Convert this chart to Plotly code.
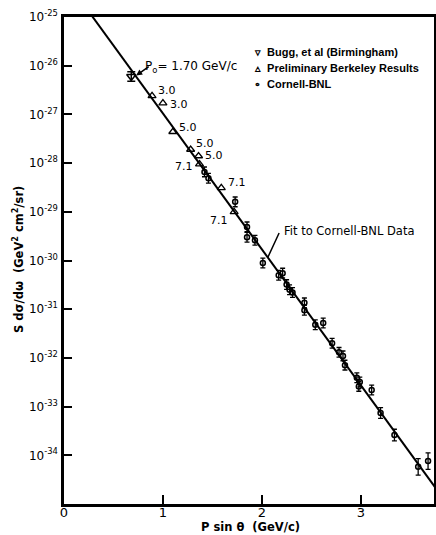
import numpy as np
import plotly.graph_objects as go

# ---- data ----
bugg_x = [0.68]
bugg_y = [6.0e-27]
bugg_err_dec = [0.10]

berk_x = [0.89, 1.00, 1.10, 1.28, 1.36, 1.37, 1.59, 1.72]
berk_y = [2.4e-27, 1.7e-27, 4.4e-28, 1.9e-28, 1.4e-28, 9.5e-29, 3.1e-29, 1.0e-29]
berk_labels = ["3.0", "3.0", "5.0", "5.0", "5.0", "7.1", "7.1", "7.1"]

cbnl_x = [1.42, 1.46, 1.73, 1.85, 1.85, 1.93, 2.01, 2.17, 2.21, 2.25, 2.28, 2.31,
          2.43, 2.43, 2.54, 2.62, 2.71, 2.78, 2.82, 2.84, 2.96, 2.99, 2.98, 3.11,
          3.20, 3.34, 3.58, 3.68]
cbnl_y = [6.6e-29, 4.9e-29, 1.6e-29, 4.9e-30, 3.0e-30, 2.6e-30, 8.9e-31, 5.0e-31,
          5.5e-31, 3.2e-31, 2.5e-31, 2.2e-31, 1.35e-31, 9.5e-32, 4.8e-32, 5.2e-32,
          2.0e-32, 1.3e-32, 1.1e-32, 7.1e-33, 3.9e-33, 3.2e-33, 2.6e-33, 2.2e-33,
          7.4e-34, 2.6e-34, 5.8e-35, 7.6e-35]
cbnl_err_dec = [0.10] * 24 + [0.11, 0.12, 0.17, 0.17]

# fit to Cornell-BNL data: log10(y) = fit_a + fit_b * x
fit_a = -24.19
fit_b = -2.79
fit_x = [0.0, 3.8]

y_tick_exps = [-25, -26, -27, -28, -29, -30, -31, -32, -33, -34]
x_tick_vals = [0, 1, 2, 3]
x_tick_text = ["0", "1", "2", "3"]

FONT = "DejaVu Sans"
LFONT = "Liberation Sans"


def errs(vals, decs):
    v = np.array(vals)
    d = np.array(decs)
    return v * (10 ** d - 1), v * (1 - 10 ** (-d))


fig = go.Figure()

fx = np.array(fit_x)
fig.add_trace(go.Scatter(x=fx, y=10 ** (fit_a + fit_b * fx), mode="lines",
                         line=dict(color="black", width=2), showlegend=False,
                         hoverinfo="skip"))

cp, cm = errs(cbnl_y, cbnl_err_dec)
fig.add_trace(go.Scatter(x=cbnl_x, y=cbnl_y, mode="markers", name="Cornell-BNL",
                         marker=dict(symbol="circle-open", size=5, color="black",
                                     line=dict(width=1.5)),
                         error_y=dict(type="data", array=cp, arrayminus=cm,
                                      color="black", thickness=1.3, width=2.5),
                         showlegend=False))

fig.add_trace(go.Scatter(x=berk_x, y=berk_y, mode="markers",
                         name="Preliminary Berkeley Results",
                         marker=dict(symbol="triangle-up-open", size=7, color="black",
                                     line=dict(width=1.3)),
                         showlegend=False))

bp, bm = errs(bugg_y, bugg_err_dec)
fig.add_trace(go.Scatter(x=bugg_x, y=bugg_y, mode="markers",
                         name="Bugg, et al (Birmingham)",
                         marker=dict(symbol="triangle-down-open", size=8, color="black",
                                     line=dict(width=1.5)),
                         error_y=dict(type="data", array=bp, arrayminus=bm,
                                      color="black", thickness=1.5, width=4),
                         showlegend=False))

annots = []
# Berkeley labels
label_offsets = [(4, -5, "left"), (5, 1, "left"), (4, -4, "left"), (3, -6, "left"),
                 (4, 0, "left"), (-5, 2, "right"), (5, -5, "left"), (-4, 9, "right")]
for x, y, t, (dx, dy, anc) in zip(berk_x, berk_y, berk_labels, label_offsets):
    annots.append(dict(x=x, y=np.log10(y), xref="x", yref="y", text=t, showarrow=False,
                       xanchor=anc, yanchor="middle", xshift=dx, yshift=-dy,
                       font=dict(family=FONT, size=11, color="black")))

# P0 label with leader
annots.append(dict(x=bugg_x[0] + 0.05, y=np.log10(bugg_y[0]) + 0.02, xref="x", yref="y",
                   ax=14, ay=-10, text="", showarrow=True, arrowhead=2, arrowsize=0.8,
                   arrowwidth=1.5, arrowcolor="black"))
annots.append(dict(x=0.8, y=np.log10(bugg_y[0]) + 0.2, xref="x", yref="y",
                   text="P<sub>o</sub>= 1.70 GeV/c", showarrow=False, xanchor="left",
                   yanchor="middle", font=dict(family=FONT, size=12, color="black")))

# fit label with leader
fit_pt_x = 2.06
annots.append(dict(x=fit_pt_x, y=fit_a + fit_b * fit_pt_x, xref="x", yref="y",
                   ax=12, ay=-26, text="", showarrow=True, arrowhead=0,
                   arrowwidth=1.5, arrowcolor="black"))
annots.append(dict(x=2.2, y=-29.4, xref="x", yref="y", text="Fit to Cornell-BNL Data",
                   showarrow=False, xanchor="left", yanchor="middle",
                   font=dict(family=FONT, size=11.5, color="black")))

# legend as text
leg_items = ["\u25BF  Bugg, et al (Birmingham)",
             "\u25B5  Preliminary Berkeley Results",
             "\u2218  Cornell-BNL"]
for i, t in enumerate(leg_items):
    annots.append(dict(x=(252 - 64) / 370, y=1 - (52 + 16 * i - 17) / 487, xref="paper",
                       yref="paper", text="<b>" + t + "</b>", showarrow=False,
                       xanchor="left", yanchor="middle",
                       font=dict(family=LFONT, size=11, color="black")))

# axis titles
annots.append(dict(x=(18 - 64) / 370, y=1 - (260 - 17) / 487, xref="paper", yref="paper",
                   text="<b>S dσ/dω  (GeV<sup>2</sup> cm<sup>2</sup>/sr)</b>",
                   textangle=-90, showarrow=False, xanchor="center", yanchor="middle",
                   font=dict(family=FONT, size=11.5, color="black")))
annots.append(dict(x=(250 - 64) / 370, y=-(527 - 504) / 487, xref="paper", yref="paper",
                   text="<b>P sin θ  (GeV/c)</b>", showarrow=False, xanchor="center",
                   yanchor="middle", font=dict(family=FONT, size=11.5, color="black")))

fig.update_layout(
    width=436, height=535,
    margin=dict(l=64, r=2, t=17, b=31, autoexpand=False),
    paper_bgcolor="white", plot_bgcolor="white",
    showlegend=False,
    annotations=annots,
    xaxis=dict(range=[0, 3.74], tickvals=x_tick_vals, ticktext=x_tick_text,
               ticks="inside", ticklen=9, tickwidth=2, tickcolor="black",
               showline=True, linecolor="black", linewidth=2.5, mirror=True,
               showgrid=False, zeroline=False, automargin=False,
               ticklabelstandoff=-5,
               tickfont=dict(family=FONT, size=13, color="black")),
    yaxis=dict(type="log", range=[-35, -25],
               tickvals=[10.0 ** e for e in y_tick_exps],
               ticktext=["10<sup>%d</sup>" % e for e in y_tick_exps],
               ticks="inside", ticklen=8, tickwidth=2, tickcolor="black",
               showline=True, linecolor="black", linewidth=2.5, mirror=True,
               showgrid=False, zeroline=False, ticklabelstandoff=1, automargin=False,
               tickfont=dict(family=FONT, size=12, color="black")),
)

fig.write_html("out.html", config={"displayModeBar": False},
               post_script="document.body.style.margin='0';document.body.style.overflow='hidden';")
